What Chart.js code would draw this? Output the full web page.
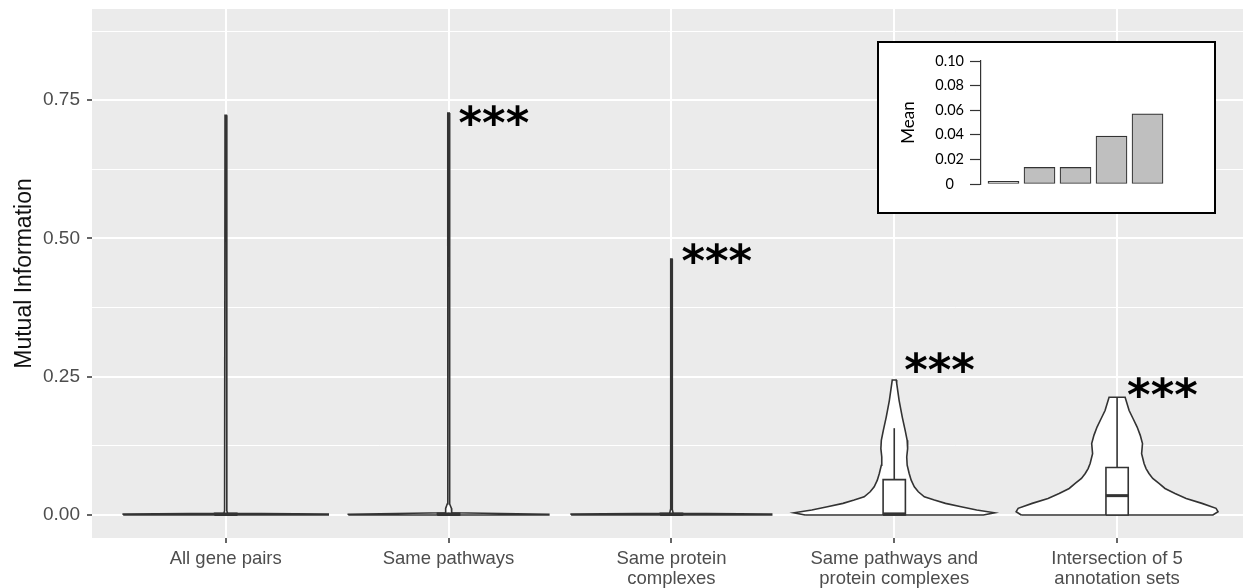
<!DOCTYPE html>
<html>
<head>
<meta charset="utf-8">
<script src="https://cdn.jsdelivr.net/npm/chart.js@4"></script>
<style>
  html, body { margin: 0; padding: 0; background: #fff; overflow: hidden; }
  #wrap { position: relative; width: 1243px; height: 588px; }
  canvas { display: block; }
  #inset { position: absolute; left: 877px; top: 41px; width: 339px; height: 173px;
           box-sizing: border-box; border: 2px solid #000; background: #fff; }
</style>
</head>
<body>
<div id="wrap">
  <canvas id="mainChart" width="1243" height="588"></canvas>
  <div id="inset"><canvas id="insetChart" width="335" height="169"></canvas></div>
</div>
<script>
// Categories and ticks
const categories = [
  ['All gene pairs'],
  ['Same pathways'],
  ['Same protein', 'complexes'],
  ['Same pathways and', 'protein complexes'],
  ['Intersection of 5', 'annotation sets']
];
const yMajorTicks = [0, 0.25, 0.5, 0.75];
const yMinorTicks = [0.125, 0.375, 0.625, 0.875];

// Violin outlines: MI level and half-width (category units) at that level
const allPairsLevels = [0, 0.0015, 0.003, 0.008, 0.723];
const allPairsWidths = [0.46, 0.46, 0.008, 0.005, 0.003];
const pathwaysLevels = [0, 0.0015, 0.004, 0.012, 0.02, 0.03, 0.727];
const pathwaysWidths = [0.45, 0.45, 0.014, 0.013, 0.006, 0.004, 0.003];
const complexesLevels = [0, 0.0015, 0.003, 0.01, 0.463];
const complexesWidths = [0.45, 0.45, 0.008, 0.004, 0.003];
const bothLevels = [0, 0.004, 0.009, 0.015, 0.021, 0.027, 0.033, 0.042, 0.051, 0.063, 0.075, 0.09, 0.105, 0.12, 0.135, 0.153, 0.177, 0.207, 0.238, 0.244];
const bothWidths = [0.40, 0.45, 0.37, 0.30, 0.23, 0.18, 0.135, 0.108, 0.09, 0.076, 0.067, 0.058, 0.056, 0.06, 0.058, 0.049, 0.036, 0.022, 0.011, 0.009];
const fiveSetsLevels = [0, 0.006, 0.012, 0.021, 0.03, 0.039, 0.048, 0.057, 0.066, 0.075, 0.084, 0.093, 0.111, 0.129, 0.144, 0.159, 0.174, 0.189, 0.213];
const fiveSetsWidths = [0.43, 0.453, 0.444, 0.381, 0.31, 0.26, 0.215, 0.188, 0.16, 0.143, 0.13, 0.121, 0.11, 0.114, 0.104, 0.09, 0.072, 0.054, 0.036];

// Box plot summaries
const boxLower = [0, 0, 0, 0, 0];
const boxUpper = [0.003, 0.003, 0.003, 0.064, 0.086];
const boxMedian = [0.001, 0.001, 0.001, 0.002, 0.035];
const whiskerUpper = [0.003, 0.004, 0.003, 0.157, 0.213];

// Significance marks (level of the ***, null = none)
const sigLevel = [null, 0.722, 0.473, 0.275, 0.231];

// Inset: mean MI per category
const insetMeans = [0.0022, 0.0135, 0.0135, 0.039, 0.057];
const insetTicks = [0, 0.02, 0.04, 0.06, 0.08, 0.1];

const violinLevels = [allPairsLevels, pathwaysLevels, complexesLevels, bothLevels, fiveSetsLevels];
const violinWidths = [allPairsWidths, pathwaysWidths, complexesWidths, bothWidths, fiveSetsWidths];

const lineColor = '#333333';
const fontFamily = '"Liberation Sans", Arial, sans-serif';
const boxHalf = 0.05;

function violinPoints(center, levels, widths) {
  const left = levels.map((v, i) => ({ x: center - widths[i], y: v }));
  const right = levels.map((v, i) => ({ x: center + widths[i], y: v })).reverse();
  return left.concat(right, [left[0]]);
}

function shape(points, opts) {
  return Object.assign({
    data: points, showLine: true, pointRadius: 0, tension: 0,
    borderColor: lineColor, borderWidth: 1.6, backgroundColor: '#ffffff', fill: false
  }, opts);
}

const datasets = [];
categories.forEach((c, i) => {
  const cx = i + 1;
  datasets.push(shape(violinPoints(cx, violinLevels[i], violinWidths[i]), { fill: 'shape', order: 3 }));
  datasets.push(shape([
    { x: cx - boxHalf, y: boxLower[i] }, { x: cx - boxHalf, y: boxUpper[i] },
    { x: cx + boxHalf, y: boxUpper[i] }, { x: cx + boxHalf, y: boxLower[i] },
    { x: cx - boxHalf, y: boxLower[i] }
  ], { fill: 'shape', order: 2 }));
  datasets.push(shape([{ x: cx, y: boxUpper[i] }, { x: cx, y: whiskerUpper[i] }], { order: 1 }));
  datasets.push(shape([{ x: cx - boxHalf, y: boxMedian[i] }, { x: cx + boxHalf, y: boxMedian[i] }], { order: 1, borderWidth: 3 }));
});

// Grey panel behind the grid
const panelBackground = {
  id: 'panelBackground',
  beforeDraw(chart) {
    const { ctx, chartArea: a } = chart;
    ctx.save();
    ctx.fillStyle = '#ebebeb';
    ctx.fillRect(a.left, a.top, a.right - a.left, a.bottom - a.top);
    ctx.restore();
  }
};

// *** labels next to each violin
const sigStars = {
  id: 'sigStars',
  afterDatasetsDraw(chart) {
    const { ctx, scales: { x, y } } = chart;
    ctx.save();
    ctx.font = 'bold 45px "DejaVu Sans", sans-serif';
    ctx.fillStyle = '#000';
    ctx.textAlign = 'left';
    ctx.textBaseline = 'alphabetic';
    const m = ctx.measureText('***');
    sigLevel.forEach((v, i) => {
      if (v == null) return;
      const px = x.getPixelForValue(i + 1 + 0.045) + m.actualBoundingBoxLeft;
      const py = y.getPixelForValue(v) + (m.actualBoundingBoxAscent - m.actualBoundingBoxDescent) / 2;
      ctx.fillText('***', px, py);
    });
    ctx.restore();
  }
};

const isMajor = v => yMajorTicks.includes(v);

new Chart(document.getElementById('mainChart'), {
  type: 'scatter',
  data: { datasets },
  options: {
    responsive: false,
    animation: false,
    devicePixelRatio: 1,
    layout: { padding: { top: 9, left: 0, right: 0, bottom: 0 } },
    plugins: { legend: { display: false }, tooltip: { enabled: false } },
    scales: {
      x: {
        type: 'linear', min: 0.4, max: 5.565,
        afterBuildTicks: s => { s.ticks = categories.map((c, i) => ({ value: i + 1 })); },
        afterFit: s => { s.height = 50; s.paddingLeft = 0; s.paddingRight = 0; },
        ticks: {
          callback: v => categories[Math.round(v) - 1],
          color: '#4d4d4d', font: { family: fontFamily, size: 18.5, lineHeight: 1.08 },
          padding: 6, maxRotation: 0, autoSkip: false
        },
        grid: { color: '#ffffff', lineWidth: 2, tickColor: lineColor, tickLength: 5, tickWidth: 1.5 },
        border: { display: false }
      },
      y: {
        type: 'linear', min: -0.0416, max: 0.915,
        afterBuildTicks: s => {
          s.ticks = yMajorTicks.concat(yMinorTicks).sort((a, b) => a - b).map(v => ({ value: v }));
        },
        afterFit: s => { s.width = 92; s.paddingTop = 0; s.paddingBottom = 0; },
        ticks: {
          callback: v => isMajor(v) ? v.toFixed(2) : '',
          color: '#4d4d4d', font: { family: fontFamily, size: 19 }, padding: 7, autoSkip: false
        },
        grid: {
          color: '#ffffff',
          lineWidth: c => (c.tick && isMajor(c.tick.value)) ? 2 : 1,
          tickColor: c => (c.tick && isMajor(c.tick.value)) ? lineColor : 'rgba(0,0,0,0)',
          tickLength: 5, tickWidth: 1.5
        },
        border: { display: false },
        title: {
          display: true, text: 'Mutual Information', color: '#111',
          font: { family: fontFamily, size: 23 }, padding: { top: 11 }
        }
      }
    }
  },
  plugins: [panelBackground, sigStars]
});

// Inset bar chart of means
new Chart(document.getElementById('insetChart'), {
  type: 'bar',
  data: {
    datasets: [{
      data: insetMeans.map((m, i) => ({ x: i + 1, y: m })),
      backgroundColor: '#bfbfbf', borderColor: '#333333', borderWidth: 1.2,
      barThickness: 31, borderSkipped: false
    }]
  },
  options: {
    responsive: false,
    animation: false,
    devicePixelRatio: 1,
    layout: { padding: { top: 18, bottom: 28, left: 0, right: 40 } },
    plugins: { legend: { display: false }, tooltip: { enabled: false } },
    scales: {
      x: { type: 'linear', min: 0.375, max: 5.736, offset: false, display: false },
      y: {
        min: 0, max: 0.1,
        afterBuildTicks: s => { s.ticks = insetTicks.map(v => ({ value: v })); },
        afterFit: s => { s.width = 102; },
        ticks: {
          callback: v => v === 0 ? '0' : v.toFixed(2),
          color: '#000', font: { family: 'Lato', size: 14.5 }, padding: 6, crossAlign: 'center'
        },
        grid: { drawOnChartArea: false, tickLength: 11, tickColor: lineColor, tickWidth: 1.2 },
        border: { display: true, color: lineColor, width: 1.2 },
        title: { display: true, text: 'Mean', color: '#000', font: { family: 'Lato', size: 17 }, padding: { top: 19 } }
      }
    }
  }
});
</script>
</body>
</html>
